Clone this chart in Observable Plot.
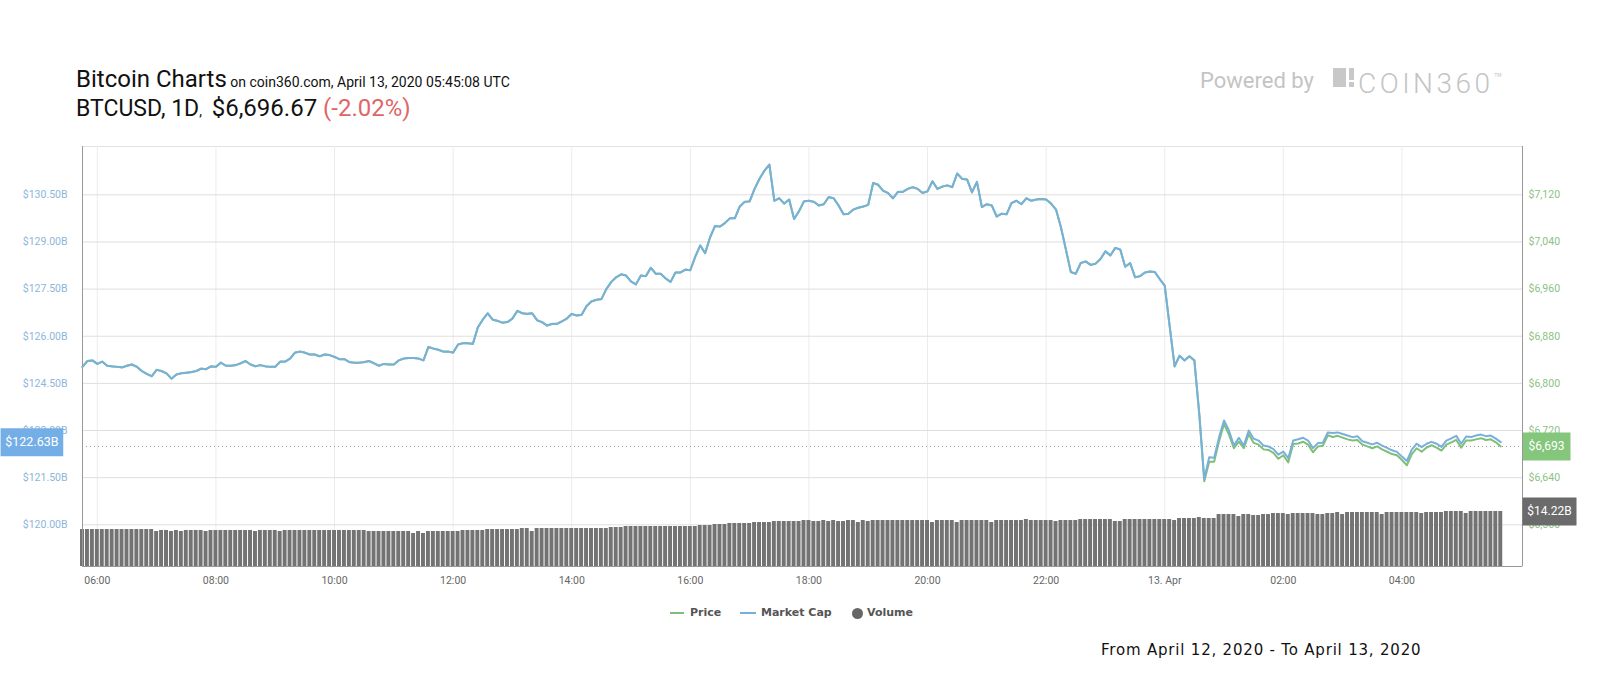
<!DOCTYPE html>
<html><head><meta charset="utf-8">
<script src="https://cdn.jsdelivr.net/npm/d3@7"></script>
<script src="https://cdn.jsdelivr.net/npm/@observablehq/plot@0.6"></script>
<style>
html,body{margin:0;padding:0;background:#fff;}
#root{position:relative;width:1600px;height:700px;overflow:hidden;font-family:Roboto,sans-serif;background:#fff;}
.abs{position:absolute;white-space:nowrap;}
.layer{position:absolute;left:0;top:130px;}
.leg{position:absolute;font-family:"DejaVu Sans",sans-serif;font-weight:bold;font-size:11px;line-height:14px;color:#555;top:606px;}
</style></head><body><div id="root">
<div class="abs" style="left:76px;top:66.5px;font-size:24px;line-height:24px;color:#111;">Bitcoin Charts<span style="font-size:14px"> on coin360.com, April 13, 2020 05:45:08 UTC</span></div>
<div class="abs" style="left:76px;top:96.6px;font-size:23px;line-height:23px;color:#111;">BTCUSD, 1D<span style="font-size:14px;margin-right:4px;">,</span> <span style="font-size:24px">$6,696.67 <span style="color:#e06666">(-2.02%)</span></span></div>
<div class="abs" style="left:1200px;top:69.5px;font-size:22px;line-height:22px;color:#c4c4c4;">Powered by</div>
<div class="abs" style="left:1333px;top:68px;width:13px;height:19px;background:#c8c8c8;"></div>
<div class="abs" style="left:1349px;top:68px;width:5px;height:12px;background:#c8c8c8;"></div>
<div class="abs" style="left:1349px;top:82px;width:5px;height:5px;background:#c8c8c8;"></div>
<div class="abs" style="left:1358px;top:63.5px;font-size:28px;line-height:28px;font-weight:300;letter-spacing:3.5px;color:#c4c4c4;">COIN360<span style="font-size:14px;vertical-align:10px;letter-spacing:0;">™</span></div>
<div id="layerA" class="layer"></div>
<div id="layerB" class="layer"></div>
<div id="layerC" class="layer"></div>
<div class="abs" style="left:670px;top:612px;width:14px;height:2px;background:#7fbf78;"></div>
<div class="leg" style="left:690px;">Price</div>
<div class="abs" style="left:740px;top:612px;width:16px;height:2px;background:#78b0dc;"></div>
<div class="leg" style="left:761px;">Market Cap</div>
<div class="abs" style="left:851.5px;top:607.5px;width:11px;height:11px;border-radius:50%;background:#666;"></div>
<div class="leg" style="left:867px;">Volume</div>
<div class="abs" style="left:1101px;top:643px;font-family:'DejaVu Sans',sans-serif;font-size:15px;line-height:15px;letter-spacing:0.8px;color:#111;">From April 12, 2020 - To April 13, 2020</div>
</div>
<script>
const startTime = "2020-04-12T05:45:00Z";
const endDomain = "2020-04-13T06:02:00Z";
const timeTicks = ["2020-04-12T06:00:00Z","2020-04-12T08:00:00Z","2020-04-12T10:00:00Z","2020-04-12T12:00:00Z","2020-04-12T14:00:00Z","2020-04-12T16:00:00Z","2020-04-12T18:00:00Z","2020-04-12T20:00:00Z","2020-04-12T22:00:00Z","2020-04-13T00:00:00Z","2020-04-13T02:00:00Z","2020-04-13T04:00:00Z"];
const timeLabels = ["06:00","08:00","10:00","12:00","14:00","16:00","18:00","20:00","22:00","13. Apr","02:00","04:00"];
const priceTicks = [6560, 6640, 6720, 6800, 6880, 6960, 7040, 7120];
const capTicks = [120.00, 121.50, 123.00, 124.50, 126.00, 127.50, 129.00, 130.50];

// BTC price (USD), 5-minute steps
const price = [
6828,6838,6839,6833,6837,6830,6829,6828,6827,6830,
6832,6828,6821,6816,6812,6823,6821,6817,6808,6815,
6817,6818,6819,6821,6825,6824,6829,6828,6835,6830,
6830,6831,6834,6838,6832,6829,6831,6829,6828,6828,
6837,6837,6842,6852,6854,6852,6849,6849,6846,6849,
6848,6845,6841,6841,6836,6835,6835,6836,6838,6834,
6830,6833,6832,6832,6839,6842,6843,6843,6842,6839,
6862,6859,6857,6854,6854,6852,6866,6868,6868,6867,
6895,6908,6919,6908,6906,6903,6904,6910,6923,6919,
6918,6919,6907,6904,6898,6901,6901,6905,6910,6918,
6915,6916,6931,6939,6942,6943,6960,6972,6980,6985,
6983,6973,6968,6983,6982,6996,6986,6986,6978,6972,
6988,6988,6993,6992,7015,7034,7021,7048,7067,7066,
7072,7080,7080,7100,7108,7109,7130,7147,7161,7171,
7110,7114,7105,7112,7079,7092,7109,7110,7108,7102,
7104,7116,7114,7102,7087,7088,7095,7098,7100,7103,
7140,7137,7127,7123,7114,7125,7125,7130,7133,7130,
7123,7126,7143,7130,7134,7136,7133,7156,7147,7146,
7124,7142,7099,7104,7102,7083,7088,7087,7106,7110,
7104,7114,7110,7112,7113,7112,7105,7095,7065,7027,
6989,6986,7004,7007,7001,7003,7011,7024,7017,7030,
7027,6998,7004,6980,6982,6988,6990,6989,6977,6966,
6897,6829,6847,6839,6846,6839,6746,6634,6667,6667,
6702,6731,6713,6690,6701,6690,6714,6699,6696,6688,
6687,6682,6672,6678,6666,6697,6698,6701,6696,6683,
6693,6694,6712,6709,6711,6708,6705,6703,6704,6696,
6693,6690,6693,6688,6684,6680,6678,6670,6661,6680,
6690,6684,6691,6695,6691,6686,6696,6700,6704,6691,
6703,6703,6705,6707,6704,6705,6700,6693];

// Market cap (USD billions)
const marketCap = [
125.03,125.21,125.23,125.12,125.19,125.06,125.04,125.03,125.01,125.06,
125.10,125.03,124.89,124.80,124.73,124.93,124.89,124.82,124.65,124.78,
124.82,124.84,124.86,124.89,124.97,124.95,125.04,125.03,125.16,125.06,
125.06,125.08,125.14,125.21,125.10,125.04,125.08,125.04,125.03,125.03,
125.19,125.19,125.29,125.48,125.51,125.48,125.42,125.42,125.36,125.42,
125.40,125.34,125.27,125.27,125.18,125.16,125.16,125.18,125.21,125.14,
125.06,125.12,125.10,125.10,125.23,125.29,125.31,125.31,125.29,125.23,
125.66,125.61,125.57,125.51,125.51,125.48,125.74,125.78,125.78,125.76,
126.28,126.53,126.73,126.53,126.49,126.43,126.45,126.56,126.81,126.73,
126.71,126.73,126.51,126.45,126.34,126.39,126.39,126.47,126.56,126.71,
126.66,126.68,126.96,127.11,127.16,127.18,127.50,127.73,127.88,127.97,
127.93,127.74,127.65,127.93,127.91,128.18,127.99,127.99,127.84,127.73,
128.03,128.03,128.12,128.10,128.53,128.89,128.64,129.15,129.51,129.49,
129.60,129.75,129.75,130.13,130.28,130.29,130.69,131.01,131.27,131.46,
130.31,130.39,130.22,130.35,129.73,129.98,130.29,130.31,130.28,130.16,
130.20,130.43,130.39,130.16,129.88,129.90,130.03,130.09,130.13,130.18,
130.88,130.82,130.63,130.56,130.39,130.59,130.59,130.69,130.74,130.69,
130.56,130.61,130.93,130.69,130.76,130.80,130.74,131.18,131.01,130.99,
130.58,130.91,130.11,130.20,130.16,129.81,129.90,129.88,130.24,130.31,
130.20,130.39,130.31,130.35,130.37,130.35,130.22,130.03,129.47,128.76,
128.04,127.99,128.33,128.38,128.27,128.31,128.46,128.70,128.57,128.81,
128.76,128.21,128.33,127.88,127.91,128.03,128.06,128.04,127.82,127.61,
126.32,125.04,125.38,125.23,125.36,125.23,123.53,121.46,122.15,122.13,
122.79,123.32,123.00,122.52,122.77,122.52,123.00,122.74,122.68,122.52,
122.49,122.41,122.23,122.33,122.12,122.68,122.72,122.77,122.68,122.44,
122.60,122.61,122.94,122.92,122.94,122.89,122.84,122.79,122.82,122.66,
122.61,122.56,122.61,122.52,122.45,122.37,122.32,122.17,122.03,122.39,
122.58,122.47,122.58,122.64,122.58,122.48,122.68,122.75,122.83,122.58,
122.81,122.79,122.84,122.87,122.82,122.84,122.74,122.63];

// 24h volume (USD billions)
const volume = [
9.56,9.56,9.56,9.56,9.56,9.56,9.56,9.56,9.56,9.56,
9.56,9.56,9.56,9.56,9.56,9.05,9.31,9.31,9.05,9.31,
9.05,9.31,9.31,9.31,9.31,9.05,9.31,9.31,9.31,9.31,
9.31,9.31,9.31,9.31,9.31,9.05,9.31,9.31,9.31,9.31,
9.05,9.31,9.31,9.31,9.31,9.31,9.31,9.31,9.31,9.31,
9.31,9.31,9.31,9.31,9.31,9.31,9.31,9.31,9.05,9.05,
9.05,9.05,9.05,9.05,9.05,9.05,9.05,8.53,9.05,8.53,
9.05,9.05,9.05,9.05,9.05,9.05,9.05,9.31,9.31,9.31,
9.31,9.31,9.56,9.56,9.56,9.56,9.56,9.56,9.56,9.82,
9.82,9.05,9.82,9.82,9.82,9.82,9.82,9.82,9.82,9.82,
9.82,9.82,9.82,9.82,9.82,9.82,9.82,10.08,10.08,10.08,
10.34,10.34,10.34,10.34,10.34,10.34,10.34,10.34,10.34,10.34,
10.34,10.34,10.34,10.34,10.34,10.60,10.60,10.60,10.86,10.86,
10.86,11.12,11.12,11.12,11.12,11.12,11.37,11.37,11.37,11.37,
11.63,11.63,11.63,11.63,11.63,11.63,11.89,11.89,11.63,11.63,
11.89,11.63,11.89,11.63,11.63,11.89,11.89,11.37,11.89,11.63,
11.89,11.89,11.89,11.89,11.89,11.89,11.89,11.89,11.89,11.89,
11.89,11.89,11.37,11.89,11.89,11.89,11.89,11.37,11.89,11.89,
11.89,11.89,11.89,11.89,11.37,11.89,11.89,11.89,11.89,11.89,
11.89,12.15,11.89,11.89,11.89,11.89,11.89,11.63,11.89,11.89,
11.89,11.89,12.15,12.15,12.15,12.15,12.15,12.15,12.15,11.63,
11.63,12.15,12.15,12.15,12.15,12.15,12.15,12.15,12.15,12.15,
12.15,11.89,12.41,12.41,12.41,12.41,12.67,12.41,12.41,12.41,
13.44,13.44,13.44,13.44,12.93,13.44,13.44,13.18,13.18,13.44,
13.44,13.70,13.70,13.70,13.44,13.70,13.70,13.70,13.70,13.70,
13.44,13.44,13.70,13.70,13.96,13.44,13.96,13.96,13.96,13.96,
13.96,13.96,13.96,13.44,13.96,13.96,13.96,13.96,13.96,13.96,
13.96,13.70,13.96,13.96,13.96,13.96,14.22,14.22,14.22,14.22,
13.70,14.22,14.22,14.22,14.22,14.22,14.22,14.22];

const STEP = 5 * 60 * 1000;
const t0 = new Date(startTime).getTime();
const n = Math.min(price.length, marketCap.length, volume.length);
const data = d3.range(n).map(i => ({t: new Date(t0 + i * STEP), price: price[i], cap: marketCap[i], vol: volume[i]}));
const last = [data[n - 1]];
const ticks = timeTicks.map(s => new Date(s));

const GREEN = "#7fbf78", BLUE = "#78b0dc";
const W = 1600, H = 470;
const common = {
  width: W, height: H, marginLeft: 82, marginRight: 78, marginTop: 16, marginBottom: 34,
  style: {background: "transparent", fontFamily: "Roboto, sans-serif", fontSize: "10.5px", overflow: "visible"},
  x: {type: "utc", domain: [new Date(startTime), new Date(endDomain)], axis: null}
};
function box(w, h) { return {draw(ctx) { ctx.rect(-w / 2, -h / 2, w, h); }}; }

// Layer A: price (right axis)
const plotA = Plot.plot({
  ...common,
  y: {domain: [6560, 7120], range: [394.3, 64.3], axis: null},
  marks: [
    Plot.frame({stroke: "#e2e2e2"}),
    Plot.ruleX(ticks, {stroke: "#ececec"}),
    Plot.ruleY(priceTicks, {stroke: "#dedede"}),
    Plot.axisY(priceTicks, {anchor: "right", label: null, tickSize: 0, tickPadding: 6, color: "#8cc283",
      tickFormat: d => "$" + d3.format(",")(d)}),
    Plot.ruleY(last, {y: "price", stroke: "#999", strokeDasharray: "1,3"}),
    Plot.line(data, {x: "t", y: "price", stroke: GREEN, strokeWidth: 2}),
    Plot.dot(last, {y: "price", frameAnchor: "right", dx: 24, symbol: box(48, 28), fill: "#84c67c", stroke: null, r: 5}),
    Plot.text(last, {y: "price", frameAnchor: "right", dx: 24, textAnchor: "middle", fill: "white", fontSize: 12,
      text: d => "$" + d3.format(",")(d.price)})
  ]
});
document.getElementById("layerA").append(plotA);

// Layer B: volume + x axis + frame lines
const plotB = Plot.plot({
  ...common,
  y: {domain: [0, d3.max(volume)], range: [436, 381], axis: null},
  marks: [
    Plot.rectY(data, {x1: d => new Date(+d.t - 2 * 60000), x2: d => new Date(+d.t + 2 * 60000), y: "vol", fill: "#737373"}),
    Plot.ruleX([new Date(startTime), new Date(endDomain)], {stroke: "#999"}),
    Plot.ruleY([0], {stroke: "#999"}),
    Plot.axisX(ticks, {label: null, tickSize: 0, tickPadding: 10, color: "#666",
      tickFormat: d => timeLabels[ticks.findIndex(t => +t === +d)]}),
    Plot.dot(last, {y: "vol", frameAnchor: "right", dx: 27, symbol: box(54, 28), fill: "#6b6b6b", stroke: null, r: 5}),
    Plot.text(last, {y: "vol", frameAnchor: "right", dx: 27, textAnchor: "middle", fill: "white", fontSize: 12,
      text: d => "$" + d.vol.toFixed(2) + "B"})
  ]
});
document.getElementById("layerB").append(plotB);

// Layer C: market cap (left axis)
const plotC = Plot.plot({
  ...common,
  y: {domain: [120, 130.5], range: [394.3, 64.3], axis: null},
  marks: [
    Plot.axisY(capTicks, {anchor: "left", label: null, tickSize: 0, tickPadding: 15, color: "#8db6da",
      tickFormat: d => "$" + d.toFixed(2) + "B"}),
    Plot.line(data, {x: "t", y: "cap", stroke: BLUE, strokeWidth: 2}),
    Plot.dot(last, {y: "cap", frameAnchor: "left", dx: -50.6, symbol: box(62.7, 28), fill: "#74aee6", stroke: null, r: 5}),
    Plot.text(last, {y: "cap", frameAnchor: "left", dx: -50.6, textAnchor: "middle", fill: "white", fontSize: 12.5,
      text: d => "$" + d.cap.toFixed(2) + "B"})
  ]
});
document.getElementById("layerC").append(plotC);
</script>
</body></html>
